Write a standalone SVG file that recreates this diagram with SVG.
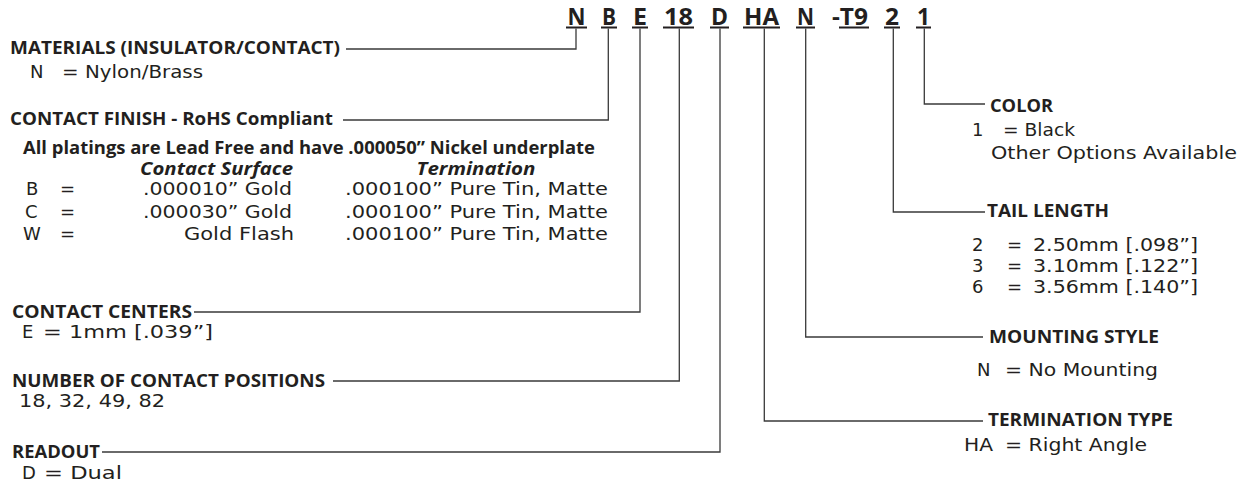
<svg xmlns="http://www.w3.org/2000/svg" width="1250" height="494" viewBox="0 0 1250 494">
<style>
.code{font-family:"Open Sans","DejaVu Sans",sans-serif;font-weight:700;font-size:24px;fill:#231f20;text-anchor:middle}
.h{font-family:"Open Sans","DejaVu Sans",sans-serif;font-weight:700;font-size:17px;fill:#231f20}
.hi{font-family:"Open Sans","DejaVu Sans",sans-serif;font-weight:700;font-style:italic;font-size:17px;fill:#231f20}
.v{font-family:"DejaVu Sans","Liberation Sans",sans-serif;font-size:18px;fill:#231f20}
.ul{fill:#231f20}
.ln{fill:none;stroke:#3a3a3a;stroke-width:1.3}
</style>
<rect width="1250" height="494" fill="#ffffff"/>
<g id="code">
<text class="code" x="576.5" y="24.5" textLength="18" lengthAdjust="spacingAndGlyphs">N</text>
<text class="code" x="609" y="24.5" textLength="14" lengthAdjust="spacingAndGlyphs">B</text>
<text class="code" x="640" y="24.5" textLength="14" lengthAdjust="spacingAndGlyphs">E</text>
<text class="code" x="678.5" y="24.5" textLength="29" lengthAdjust="spacingAndGlyphs">18</text>
<text class="code" x="719.5" y="24.5" textLength="17" lengthAdjust="spacingAndGlyphs">D</text>
<text class="code" x="761.5" y="24.5" textLength="35" lengthAdjust="spacingAndGlyphs">HA</text>
<text class="code" x="805.5" y="24.5" textLength="17" lengthAdjust="spacingAndGlyphs">N</text>
<text class="code" x="850" y="24.5" textLength="36" lengthAdjust="spacingAndGlyphs">-T9</text>
<text class="code" x="892" y="24.5" textLength="14" lengthAdjust="spacingAndGlyphs">2</text>
<text class="code" x="923.5" y="24.5" textLength="13" lengthAdjust="spacingAndGlyphs">1</text>
<rect class="ul" x="566" y="26.5" width="21" height="2"/>
<rect class="ul" x="601" y="26.5" width="16" height="2"/>
<rect class="ul" x="632" y="26.5" width="16" height="2"/>
<rect class="ul" x="663" y="26.5" width="31" height="2"/>
<rect class="ul" x="710" y="26.5" width="19" height="2"/>
<rect class="ul" x="743" y="26.5" width="37" height="2"/>
<rect class="ul" x="796" y="26.5" width="19" height="2"/>
<rect class="ul" x="839" y="26.5" width="30" height="2"/>
<rect class="ul" x="884" y="26.5" width="16" height="2"/>
<rect class="ul" x="916" y="26.5" width="15" height="2"/>
</g>
<g id="connectors">
<polyline class="ln" points="576,28.5 576,49 346,49"/>
<polyline class="ln" points="608.3,28.5 608.3,120 343,120"/>
<polyline class="ln" points="640,28.5 640,312 194,312"/>
<polyline class="ln" points="679.3,28.5 679.3,381 333,381"/>
<polyline class="ln" points="720,28.5 720,452 102,452"/>
<polyline class="ln" points="764.3,28.5 764.3,421 983,421"/>
<polyline class="ln" points="805.7,28.5 805.7,337 983,337"/>
<polyline class="ln" points="893.3,28.5 893.3,212 985,212"/>
<polyline class="ln" points="924.3,28.5 924.3,104 985,104"/>
</g>
<g id="materials">
<text class="h" x="10" y="54" textLength="330" lengthAdjust="spacingAndGlyphs">MATERIALS (INSULATOR/CONTACT)</text>
<text class="v" x="30" y="78">N</text>
<text class="v" x="62" y="78" textLength="141" lengthAdjust="spacingAndGlyphs">= Nylon/Brass</text>
</g>
<g id="contact-finish">
<text class="h" x="10" y="125" textLength="323" lengthAdjust="spacingAndGlyphs">CONTACT FINISH - RoHS Compliant</text>
<text class="h" x="23" y="154" font-size="16" textLength="572" lengthAdjust="spacingAndGlyphs">All platings are Lead Free and have .000050” Nickel underplate</text>
<text class="hi" x="293" y="175" text-anchor="end" textLength="153" lengthAdjust="spacingAndGlyphs">Contact Surface</text>
<text class="hi" x="476" y="175" text-anchor="middle" textLength="119" lengthAdjust="spacingAndGlyphs">Termination</text>
<text class="v" x="26" y="195">B</text>
<text class="v" x="60" y="195">=</text>
<text class="v" x="143" y="195" textLength="149" lengthAdjust="spacingAndGlyphs">.000010” Gold</text>
<text class="v" x="345" y="195" textLength="263" lengthAdjust="spacingAndGlyphs">.000100” Pure Tin, Matte</text>
<text class="v" x="25" y="218">C</text>
<text class="v" x="60" y="218">=</text>
<text class="v" x="143" y="218" textLength="149" lengthAdjust="spacingAndGlyphs">.000030” Gold</text>
<text class="v" x="345" y="218" textLength="263" lengthAdjust="spacingAndGlyphs">.000100” Pure Tin, Matte</text>
<text class="v" x="23" y="240">W</text>
<text class="v" x="60" y="240">=</text>
<text class="v" x="294" y="240" text-anchor="end" textLength="110" lengthAdjust="spacingAndGlyphs">Gold Flash</text>
<text class="v" x="345" y="240" textLength="263" lengthAdjust="spacingAndGlyphs">.000100” Pure Tin, Matte</text>
</g>
<g id="contact-centers">
<text class="h" x="12" y="318" textLength="180" lengthAdjust="spacingAndGlyphs">CONTACT CENTERS</text>
<text class="v" x="22" y="338">E</text>
<text class="v" x="43" y="338" textLength="170" lengthAdjust="spacingAndGlyphs">= 1mm [.039”]</text>
</g>
<g id="positions">
<text class="h" x="12" y="387" textLength="313" lengthAdjust="spacingAndGlyphs">NUMBER OF CONTACT POSITIONS</text>
<text class="v" x="19" y="407" textLength="146" lengthAdjust="spacingAndGlyphs">18, 32, 49, 82</text>
</g>
<g id="readout">
<text class="h" x="12" y="458" textLength="88" lengthAdjust="spacingAndGlyphs">READOUT</text>
<text class="v" x="22" y="479">D</text>
<text class="v" x="44" y="479" textLength="78" lengthAdjust="spacingAndGlyphs">= Dual</text>
</g>
<g id="color">
<text class="h" x="990" y="112" textLength="63" lengthAdjust="spacingAndGlyphs">COLOR</text>
<text class="v" x="972" y="136">1</text>
<text class="v" x="1003" y="136" textLength="72" lengthAdjust="spacingAndGlyphs">= Black</text>
<text class="v" x="991" y="159" textLength="246" lengthAdjust="spacingAndGlyphs">Other Options Available</text>
</g>
<g id="tail-length">
<text class="h" x="987" y="217" textLength="122" lengthAdjust="spacingAndGlyphs">TAIL LENGTH</text>
<text class="v" x="972" y="251">2</text>
<text class="v" x="1007" y="251">=</text>
<text class="v" x="1033" y="251" textLength="165" lengthAdjust="spacingAndGlyphs">2.50mm [.098”]</text>
<text class="v" x="972" y="272">3</text>
<text class="v" x="1007" y="272">=</text>
<text class="v" x="1033" y="272" textLength="165" lengthAdjust="spacingAndGlyphs">3.10mm [.122”]</text>
<text class="v" x="972" y="293">6</text>
<text class="v" x="1007" y="293">=</text>
<text class="v" x="1033" y="293" textLength="165" lengthAdjust="spacingAndGlyphs">3.56mm [.140”]</text>
</g>
<g id="mounting-style">
<text class="h" x="989" y="343" textLength="170" lengthAdjust="spacingAndGlyphs">MOUNTING STYLE</text>
<text class="v" x="977" y="376">N</text>
<text class="v" x="1005" y="376" textLength="153" lengthAdjust="spacingAndGlyphs">= No Mounting</text>
</g>
<g id="termination-type">
<text class="h" x="988" y="426" textLength="185" lengthAdjust="spacingAndGlyphs">TERMINATION TYPE</text>
<text class="v" x="964" y="451" textLength="29" lengthAdjust="spacingAndGlyphs">HA</text>
<text class="v" x="1005" y="451" textLength="142" lengthAdjust="spacingAndGlyphs">= Right Angle</text>
</g>
</svg>
